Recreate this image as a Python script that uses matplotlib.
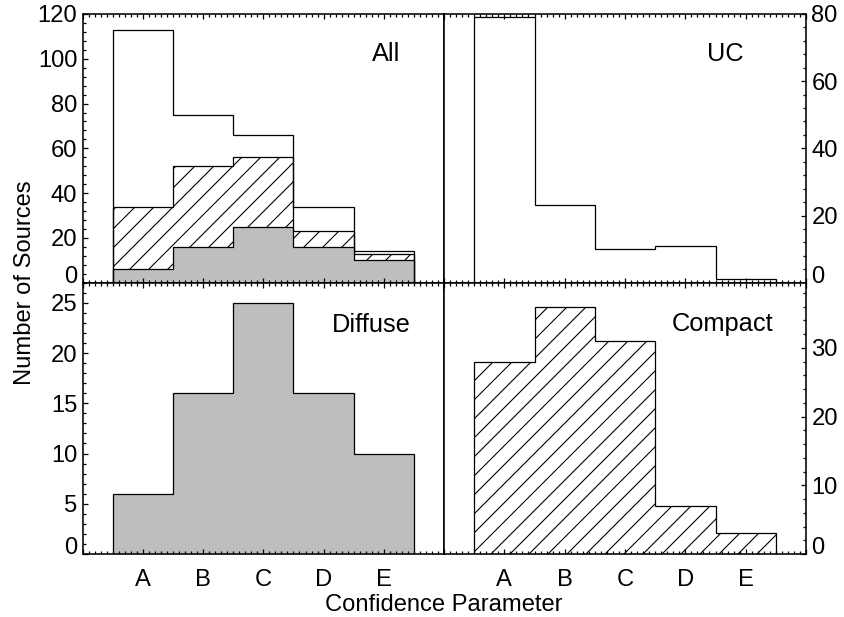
import numpy as np
import matplotlib.pyplot as plt
from matplotlib.ticker import MultipleLocator, FixedLocator

plt.rcParams['font.family'] = ['Liberation Sans', 'DejaVu Sans']
plt.rcParams['hatch.linewidth'] = 0.7
plt.rcParams['axes.linewidth'] = 1.0

# counts per confidence class
categories = ['A', 'B', 'C', 'D', 'E']
diffuse = [6, 16, 25, 16, 10]
compact = [28, 36, 31, 7, 3]
uc = [79, 23, 10, 11, 1]

diffuse = np.array(diffuse)
compact = np.array(compact)
uc = np.array(uc)
total = diffuse + compact + uc
edges = np.arange(len(categories) + 1) + 0.5

dpi = 114
W, H = 844, 617
fig = plt.figure(figsize=(W / dpi, H / dpi), dpi=dpi)


def px_axes(x0, y0, x1, y1):
    return fig.add_axes([x0 / W, 1 - y1 / H, (x1 - x0) / W, (y1 - y0) / H])


ax_all = px_axes(82.7, 14, 444, 282.7)
ax_uc = px_axes(444, 14, 806, 282.7)
ax_dif = px_axes(82.7, 282.7, 444, 554)
ax_cmp = px_axes(444, 282.7, 806, 554)


def style(ax, ymax, major, right=False, bottom=False):
    ax.set_xlim(0, 6)
    ax.set_ylim(0, ymax)
    ax.xaxis.set_major_locator(FixedLocator(range(7)))
    ax.xaxis.set_minor_locator(MultipleLocator(0.1))
    ax.set_yticks(np.arange(0, ymax + 0.01, major))
    ax.yaxis.set_minor_locator(MultipleLocator(major / 5))
    ax.tick_params(which='both', direction='in', top=True, bottom=True,
                   left=not right, right=right, labelleft=not right,
                   labelright=right, labelbottom=bottom, width=0.8,
                   labelsize=15)
    ax.tick_params(which='major', length=3.2)
    ax.tick_params(which='minor', length=1.6)
    ax.tick_params(axis='x', pad=9.5)
    ax.tick_params(axis='y', pad=3.4)
    if bottom:
        ax.set_xticklabels([''] + categories + [''])
    # zero label sits above the axis line, like the original
    t0 = ax.yaxis.get_major_ticks()[0]
    t0.label1.set_va('baseline')
    t0.label2.set_va('baseline')


# All
ax_all.stairs(diffuse + compact, edges, baseline=0, fill=True,
              facecolor='white', edgecolor='black', hatch='//', lw=0.8)
ax_all.stairs(diffuse, edges, baseline=0, fill=True,
              facecolor='#bebebe', edgecolor='black', lw=0.8)
ax_all.stairs(total, edges, baseline=0, color='black', lw=0.8)
style(ax_all, 120, 20)
ax_all.text(0.80, 0.8586, 'All', transform=ax_all.transAxes,
            ha='left', va='center_baseline', fontsize=16)

# UC
ax_uc.stairs(uc, edges, baseline=0, color='black', lw=0.8)
style(ax_uc, 80, 20, right=True)
ax_uc.text(0.7265, 0.8586, 'UC', transform=ax_uc.transAxes,
           ha='left', va='center_baseline', fontsize=16)

# Diffuse
ax_dif.stairs(diffuse, edges, baseline=0, fill=True,
              facecolor='#bebebe', edgecolor='black', lw=0.8)
style(ax_dif, 27, 5, bottom=True)
ax_dif.text(0.690, 0.8526, 'Diffuse', transform=ax_dif.transAxes,
            ha='left', va='center_baseline', fontsize=16)

# Compact
ax_cmp.stairs(compact, edges, baseline=0, fill=True,
              facecolor='white', edgecolor='black', hatch='//', lw=0.8)
style(ax_cmp, 39.5, 10, right=True, bottom=True)
ax_cmp.text(0.630, 0.8557, 'Compact', transform=ax_cmp.transAxes,
            ha='left', va='center_baseline', fontsize=16)

fig.text(444 / W, 1 - 602.7 / H, 'Confidence Parameter', ha='center',
         va='center_baseline', fontsize=15)
fig.text(25 / W, 1 - 282.7 / H, 'Number of Sources', rotation=90,
         ha='center', va='center', fontsize=15)

fig.savefig('out.png', dpi=dpi)
